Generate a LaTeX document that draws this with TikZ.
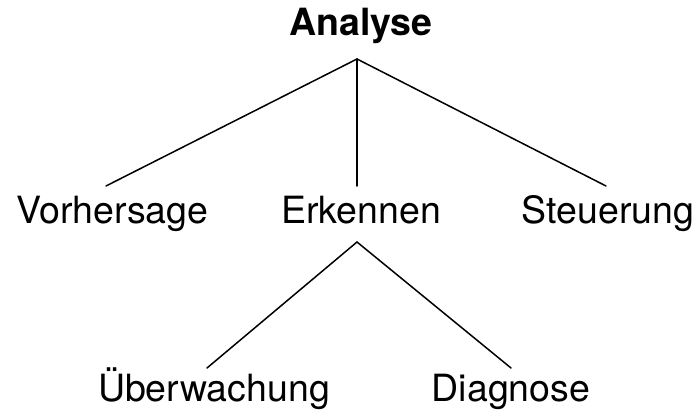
\documentclass[tikz,border=0pt]{standalone}
\usepackage{fontspec}
\setmainfont{TeX Gyre Heros}
\begin{document}
\begin{tikzpicture}[x=1pt,y=-1pt,
  lbl/.style={anchor=base,inner sep=0pt,font=\fontsize{37.5}{44}\selectfont},
  edge/.style={line width=1.5pt,line cap=round}]
\useasboundingbox (0,0) rectangle (698,412);
\node[lbl,font=\fontsize{37.5}{44}\selectfont\bfseries] (A) at (361,36) {Analyse};
\node[lbl] (V) at (112.5,223) {Vorhersage};
\node[lbl] (E) at (361,223) {Erkennen};
\node[lbl] (S) at (608,223) {Steuerung};
\node[lbl] (U) at (214,401) {Überwachung};
\node[lbl] (D) at (511,401) {Diagnose};
\coordinate (a0) at (357,59);
\coordinate (v0) at (106,186);
\coordinate (e0) at (357,186);
\coordinate (s0) at (606,186);
\coordinate (e1) at (357,242);
\coordinate (u0) at (207,368);
\coordinate (d0) at (511,368);
\draw[edge] (a0) -- (v0);
\draw[edge] (a0) -- (e0);
\draw[edge] (a0) -- (s0);
\draw[edge] (e1) -- (u0);
\draw[edge] (e1) -- (d0);
\end{tikzpicture}
\end{document}
